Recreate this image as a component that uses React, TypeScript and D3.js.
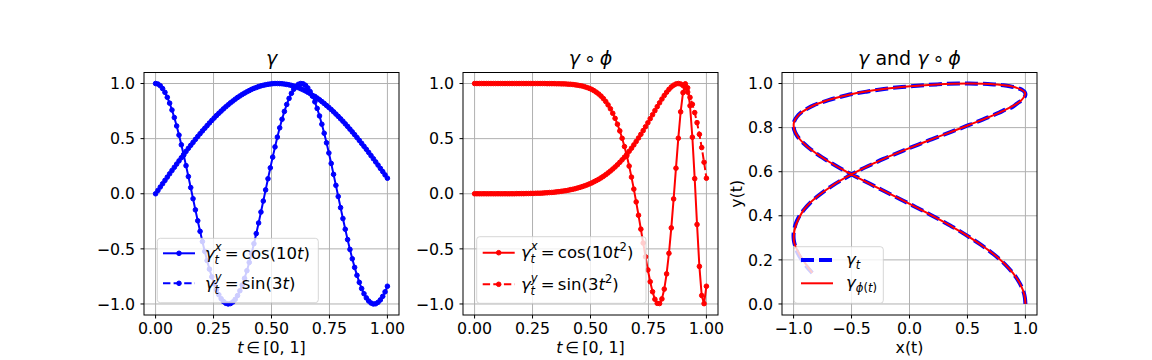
import React from "react";
import * as d3 from "d3";

// ---- data ----
const T = [0, .0101, .0202, .0303, .0404, .0505, .0606, .0707, .0808, .0909,
  .1010, .1111, .1212, .1313, .1414, .1515, .1616, .1717, .1818, .1919,
  .2020, .2121, .2222, .2323, .2424, .2525, .2626, .2727, .2828, .2929,
  .3030, .3131, .3232, .3333, .3434, .3535, .3636, .3737, .3838, .3939,
  .4040, .4141, .4242, .4343, .4444, .4545, .4646, .4747, .4848, .4949,
  .5051, .5152, .5253, .5354, .5455, .5556, .5657, .5758, .5859, .5960,
  .6061, .6162, .6263, .6364, .6465, .6566, .6667, .6768, .6869, .6970,
  .7071, .7172, .7273, .7374, .7475, .7576, .7677, .7778, .7879, .7980,
  .8081, .8182, .8283, .8384, .8485, .8586, .8687, .8788, .8889, .8990,
  .9091, .9192, .9293, .9394, .9495, .9596, .9697, .9798, .9899, 1];

const GAMMA_X = [1.000, .995, .980, .954, .920, .875, .822, .760, .691, .615,
  .532, .444, .351, .255, .156, .056, -.045, -.146, -.245, -.341,
  -.434, -.523, -.606, -.684, -.754, -.816, -.870, -.916, -.952, -.978,
  -.994, -1.000, -.996, -.982, -.958, -.924, -.880, -.828, -.767, -.698,
  -.623, -.541, -.453, -.361, -.265, -.166, -.066, .035, .136, .235,
  .332, .425, .514, .598, .676, .747, .810, .865, .911, .948,
  .975, .993, 1.000, .997, .984, .960, .927, .885, .834, .774,
  .706, .631, .549, .462, .370, .275, .176, .076, -.025, -.126,
  -.225, -.322, -.416, -.505, -.590, -.668, -.740, -.804, -.860, -.907,
  -.945, -.973, -.991, -1.000, -.998, -.985, -.963, -.931, -.890, -.839];

const GAMMA_Y = [0, .030, .061, .091, .121, .151, .181, .211, .240, .269,
  .298, .327, .356, .384, .412, .439, .466, .493, .519, .545,
  .570, .594, .618, .642, .665, .687, .709, .730, .750, .770,
  .789, .807, .825, .841, .858, .873, .887, .901, .913, .925,
  .936, .947, .956, .964, .972, .979, .984, .989, .993, .996,
  .999, 1.000, 1.000, .999, .998, .995, .992, .988, .983, .977,
  .970, .962, .953, .943, .933, .921, .909, .892, .883, .868,
  .853, .836, .819, .801, .783, .764, .744, .723, .702, .680,
  .658, .634, .611, .586, .561, .536, .510, .484, .457, .430,
  .403, .375, .346, .318, .289, .260, .230, .201, .171, .141];

const PHI_X = [1, 1, 1, 1, 1, 1, 1, 1, 1, 1,
  1, 1, 1, 1, 1, 1, 1, 1, 1, 1,
  1, 1, 1, 1, 1, 1, 1, 1, 1, 1,
  1.000, .999, .999, .999, .999, .998, .998, .997, .997, .996,
  .994, .993, .991, .988, .985, .981, .977, .971, .964, .956,
  .947, .935, .921, .905, .886, .863, .837, .806, .771, .730,
  .684, .631, .570, .503, .428, .344, .251, .151, .042, -.074,
  -.195, -.321, -.447, -.572, -.691, -.798, -.889, -.957, -.994, -.996,
  -.954, -.865, -.727, -.540, -.310, -.047, .232, .504, .743, .917,
  .997, .961, .798, .513, .137, -.279, -.659, -.923, -.997, -.839];

const PHI_Y = [0, 0, 0, 0, 0, 0, 0, 0, 0, 0,
  0, 0, 0, 0, 0, 0, 0, 0, .001, .001,
  .001, .001, .002, .002, .003, .003, .004, .005, .005, .006,
  .008, .009, .011, .012, .014, .017, .019, .022, .025, .028,
  .032, .037, .041, .046, .052, .058, .065, .072, .080, .089,
  .098, .109, .120, .131, .144, .158, .173, .189, .206, .224,
  .243, .263, .285, .308, .332, .358, .385, .413, .443, .474,
  .506, .539, .573, .608, .644, .681, .717, .754, .790, .825,
  .859, .891, .921, .947, .969, .985, .996, 1.000, .996, .982,
  .958, .922, .874, .812, .736, .645, .539, .419, .286, .141];

const T_TICKS = [0, 0.25, 0.5, 0.75, 1];
const T_TICK_LABELS = ["0.00", "0.25", "0.50", "0.75", "1.00"];
const V_TICKS = [-1, -0.5, 0, 0.5, 1];
const V_TICK_LABELS = ["\u22121.0", "\u22120.5", "0.0", "0.5", "1.0"];
const Y3_TICKS = [0, 0.2, 0.4, 0.6, 0.8, 1];
const Y3_TICK_LABELS = ["0.0", "0.2", "0.4", "0.6", "0.8", "1.0"];

// ---- style / layout ----
const W = 1152, H = 360;
const FONT = "'DejaVu Sans', sans-serif";
const BLUE = "#0000ff", RED = "#ff0000";
const TOP = 72.5, BOTTOM = 315;
const TICK_FS = 15.8, LEG_FS = 16.5, TITLE_FS = 19;
const SFS = LEG_FS * 0.7;
const DOT_R = 2.3;

const P1 = { x0: 144, x1: 399 };
const P2 = { x0: 463, x1: 718 };
const P3 = { x0: 782, x1: 1037 };

function Grid({ xs, ys, xTicks, yTicks }) {
  const [ry0, ry1] = ys.range();
  const [rx0, rx1] = xs.range();
  return (
    <g stroke="#b0b0b0" strokeWidth={1}>
      {xTicks.map((v, i) => (
        <line key={"gx" + i} x1={xs(v)} x2={xs(v)} y1={ry0} y2={ry1} />
      ))}
      {yTicks.map((v, i) => (
        <line key={"gy" + i} x1={rx0} x2={rx1} y1={ys(v)} y2={ys(v)} />
      ))}
    </g>
  );
}

function Axes({ xs, ys, xTicks, xLabels, yTicks, yLabels }) {
  const [x0, x1] = xs.range();
  const [yb, yt] = ys.range();
  return (
    <g>
      <rect x={x0} y={yt} width={x1 - x0} height={yb - yt} fill="none" stroke="#000" strokeWidth={1} />
      {xTicks.map((v, i) => (
        <g key={"tx" + i}>
          <line x1={xs(v)} x2={xs(v)} y1={yb} y2={yb + 3.5} stroke="#000" strokeWidth={1} />
          <text x={xs(v)} y={333.7} textAnchor="middle" fontSize={TICK_FS} fontFamily={FONT}>{xLabels[i]}</text>
        </g>
      ))}
      {yTicks.map((v, i) => (
        <g key={"ty" + i}>
          <line x1={x0 - 3.5} x2={x0} y1={ys(v)} y2={ys(v)} stroke="#000" strokeWidth={1} />
          <text x={x0 - 9} y={ys(v)} dy="0.36em" textAnchor="end" fontSize={TICK_FS} fontFamily={FONT}>{yLabels[i]}</text>
        </g>
      ))}
    </g>
  );
}

function Series({ xs, ys, xv, yv, color, dash, dots }) {
  const pts = xv.map((x, i) => [x, yv[i]]);
  const line = d3.line().x((d) => xs(d[0])).y((d) => ys(d[1]));
  return (
    <g>
      <path d={line(pts)} fill="none" stroke={color} strokeWidth={2} strokeDasharray={dash || undefined} />
      {dots && pts.map((d, i) => (
        <circle key={i} cx={xs(d[0])} cy={ys(d[1])} r={DOT_R} fill={color} stroke={color} strokeWidth={1} />
      ))}
    </g>
  );
}

function LegendFrame({ x, y, w, h }) {
  return <rect x={x} y={y} width={w} height={h} rx={3} fill="#fff" fillOpacity={0.8} stroke="#cccccc" strokeOpacity={0.8} strokeWidth={1} />;
}

function Handle({ x, y, color, dash, dot, width = 2 }) {
  return (
    <g>
      <line x1={x} x2={x + 32} y1={y} y2={y} stroke={color} strokeWidth={width} strokeDasharray={dash || undefined} />
      {dot && <circle cx={x + 16} cy={y} r={DOT_R} fill={color} stroke={color} strokeWidth={1} />}
    </g>
  );
}

// gamma^{sup}_t = body
function GammaLabel({ x, y, sup, children }) {
  const supW = 0.592 * SFS;
  return (
    <g fontSize={LEG_FS} fontFamily={FONT}>
      <text x={x} y={y}>
        <tspan fontStyle="italic">γ</tspan>
        <tspan fontStyle="italic" fontSize={SFS} dy={-8}>{sup}</tspan>
      </text>
      <text x={x + 9.6} y={y + 5} fontStyle="italic" fontSize={SFS}>t</text>
      <text x={x + 9.6 + supW + 3.3} y={y}>
        <tspan>=</tspan>
        <tspan dx={3.3}>{children}</tspan>
      </text>
    </g>
  );
}

export default function App() {
  const x1 = d3.scaleLinear().domain([-0.05, 1.05]).range([P1.x0, P1.x1]);
  const x2 = d3.scaleLinear().domain([-0.05, 1.05]).range([P2.x0, P2.x1]);
  const x3 = d3.scaleLinear().domain([-1.1, 1.1]).range([P3.x0, P3.x1]);
  const yv = d3.scaleLinear().domain([-1.1, 1.1]).range([BOTTOM, TOP]);
  const y3 = d3.scaleLinear().domain([-0.05, 1.05]).range([BOTTOM, TOP]);

  const curve = d3.line().curve(d3.curveCatmullRom.alpha(0.5)).x((d) => x3(d[0])).y((d) => y3(d[1]));
  const gammaPts = GAMMA_X.map((v, i) => [v, GAMMA_Y[i]]);
  const phiPts = PHI_X.map((v, i) => [v, PHI_Y[i]]);

  const dashSmall = "7.4 3.2";
  const cx1 = (P1.x0 + P1.x1) / 2, cx2 = (P2.x0 + P2.x1) / 2, cx3 = (P3.x0 + P3.x1) / 2;

  return (
    <svg width={W} height={H} viewBox={`0 0 ${W} ${H}`} style={{ position: "absolute", left: 0, top: 0, background: "#fff" }} fontFamily={FONT}>
      <rect x={0} y={0} width={W} height={H} fill="#fff" />

      {/* Panel 1 */}
      <Grid xs={x1} ys={yv} xTicks={T_TICKS} yTicks={V_TICKS} />
      <Series xs={x1} ys={yv} xv={T} yv={GAMMA_X} color={BLUE} dots />
      <Series xs={x1} ys={yv} xv={T} yv={GAMMA_Y} color={BLUE} dash={dashSmall} dots />
      <Axes xs={x1} ys={yv} xTicks={T_TICKS} xLabels={T_TICK_LABELS} yTicks={V_TICKS} yLabels={V_TICK_LABELS} />
      <text x={cx1} y={65} textAnchor="middle" fontSize={TITLE_FS} fontStyle="italic">γ</text>
      <text x={cx1} y={353} textAnchor="middle" fontSize={TICK_FS}>
        <tspan fontStyle="italic">t</tspan><tspan dx={3}>∈</tspan><tspan dx={3}>[0, 1]</tspan>
      </text>
      <g>
        <LegendFrame x={157.3} y={238.3} w={161} h={64.4} />
        <Handle x={163} y={253.3} color={BLUE} dot />
        <Handle x={163} y={283.3} color={BLUE} dash={dashSmall} dot />
        <GammaLabel x={205} y={258.5} sup="x">cos(10<tspan fontStyle="italic">t</tspan>)</GammaLabel>
        <GammaLabel x={205} y={288.5} sup="y">sin(3<tspan fontStyle="italic">t</tspan>)</GammaLabel>
      </g>

      {/* Panel 2 */}
      <Grid xs={x2} ys={yv} xTicks={T_TICKS} yTicks={V_TICKS} />
      <Series xs={x2} ys={yv} xv={T} yv={PHI_X} color={RED} dots />
      <Series xs={x2} ys={yv} xv={T} yv={PHI_Y} color={RED} dash={dashSmall} dots />
      <Axes xs={x2} ys={yv} xTicks={T_TICKS} xLabels={T_TICK_LABELS} yTicks={V_TICKS} yLabels={V_TICK_LABELS} />
      <text x={cx2} y={65} textAnchor="middle" fontSize={TITLE_FS}>
        <tspan fontStyle="italic">γ</tspan><tspan dx={4}>∘</tspan><tspan dx={4} fontStyle="italic">ϕ</tspan>
      </text>
      <text x={cx2} y={353} textAnchor="middle" fontSize={TICK_FS}>
        <tspan fontStyle="italic">t</tspan><tspan dx={3}>∈</tspan><tspan dx={3}>[0, 1]</tspan>
      </text>
      <g>
        <LegendFrame x={476.7} y={236.7} w={169.3} h={66.6} />
        <Handle x={482.7} y={252.7} color={RED} dot />
        <Handle x={482.7} y={284.3} color={RED} dash={dashSmall} dot />
        <GammaLabel x={521} y={258} sup="x">cos(10<tspan fontStyle="italic">t</tspan><tspan fontSize={SFS} dy={-7}>2</tspan><tspan dy={7}>)</tspan></GammaLabel>
        <GammaLabel x={521} y={289.5} sup="y">sin(3<tspan fontStyle="italic">t</tspan><tspan fontSize={SFS} dy={-7}>2</tspan><tspan dy={7}>)</tspan></GammaLabel>
      </g>

      {/* Panel 3 */}
      <Grid xs={x3} ys={y3} xTicks={V_TICKS} yTicks={Y3_TICKS} />
      <path d={curve(gammaPts)} fill="none" stroke={BLUE} strokeWidth={4} strokeDasharray="13 5" />
      <path d={curve(phiPts)} fill="none" stroke={RED} strokeWidth={2} />
      <Axes xs={x3} ys={y3} xTicks={V_TICKS} xLabels={V_TICK_LABELS} yTicks={Y3_TICKS} yLabels={Y3_TICK_LABELS} />
      <text x={cx3} y={65} textAnchor="middle" fontSize={TITLE_FS}>
        <tspan fontStyle="italic">γ</tspan><tspan> and </tspan><tspan fontStyle="italic">γ</tspan><tspan dx={4}>∘</tspan><tspan dx={4} fontStyle="italic">ϕ</tspan>
      </text>
      <text x={cx3} y={353} textAnchor="middle" fontSize={TICK_FS}>x(t)</text>
      <text transform={`translate(742, ${(TOP + BOTTOM) / 2}) rotate(-90)`} textAnchor="middle" fontSize={TICK_FS}>y(t)</text>
      <g>
        <LegendFrame x={794} y={246.7} w={89.3} h={56.6} />
        <Handle x={801} y={260} color={BLUE} dash="13 5" width={4} />
        <Handle x={801} y={283.3} color={RED} width={2} />
        <text x={846} y={264.5} fontSize={LEG_FS}>
          <tspan fontStyle="italic">γ</tspan><tspan fontStyle="italic" fontSize={SFS} dy={4}>t</tspan>
        </text>
        <text x={846} y={287.8} fontSize={LEG_FS}>
          <tspan fontStyle="italic">γ</tspan><tspan fontStyle="italic" fontSize={SFS} dy={4}>ϕ</tspan><tspan fontSize={SFS}>(</tspan><tspan fontSize={SFS} fontStyle="italic">t</tspan><tspan fontSize={SFS}>)</tspan>
        </text>
      </g>
    </svg>
  );
}
